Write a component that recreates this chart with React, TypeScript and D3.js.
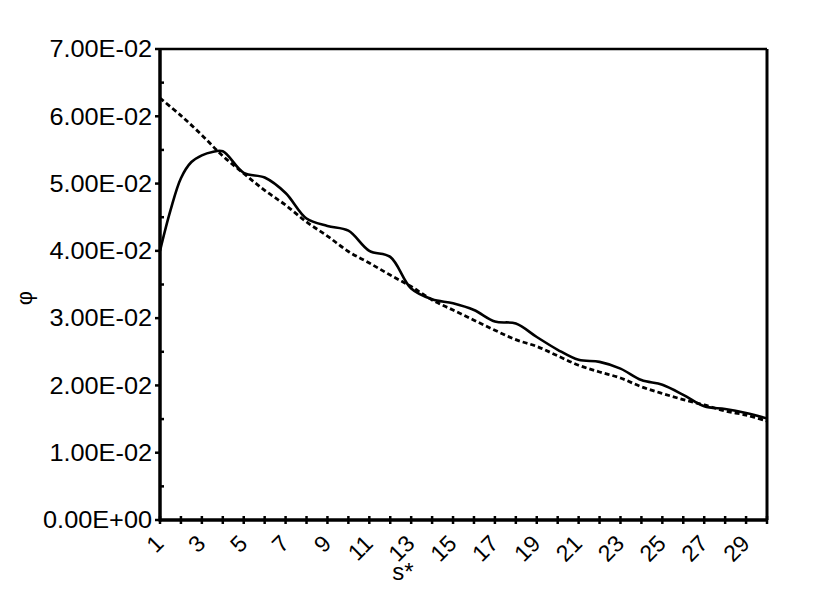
import * as d3 from 'd3';

// s* values along the x axis
const sValues = [1, 2, 3, 4, 5, 6, 7, 8, 9, 10, 11, 12, 13, 14, 15, 16, 17, 18, 19, 20, 21, 22, 23, 24, 25, 26, 27, 28, 29, 30];

// solid curve (wavy) - read a bit finer near the start
const solidS = [1, 1.5, 2, 2.5, 3, 3.5, 4, 5, 6, 7, 8, 9, 10, 11, 12, 13, 14, 15, 16, 17, 18, 19, 20, 21, 22, 23, 24, 25, 26, 27, 28, 29, 30];
const phiSolid = [0.0400, 0.0460, 0.0508, 0.0532, 0.0542, 0.0547, 0.0548, 0.0516, 0.0509, 0.0486, 0.0448, 0.0437, 0.0430,
  0.0400, 0.0391, 0.0344, 0.0328, 0.0322, 0.0312, 0.0295, 0.0292, 0.0272, 0.0253,
  0.0238, 0.0235, 0.0225, 0.0208, 0.0201, 0.0186, 0.0169, 0.0165, 0.0159, 0.0151];

// dashed curve (smooth decay)
const phiDashed = [0.0627, 0.0601, 0.0572, 0.0541, 0.0515, 0.0490, 0.0468, 0.0443, 0.0422, 0.0399,
  0.0382, 0.0364, 0.0347, 0.0327, 0.0312, 0.0297, 0.0282, 0.0268, 0.0258, 0.0244,
  0.0230, 0.0220, 0.0211, 0.0198, 0.0188, 0.0179, 0.0171, 0.0162, 0.0156, 0.0147];

const xTickLabels = [1, 3, 5, 7, 9, 11, 13, 15, 17, 19, 21, 23, 25, 27, 29];
const yMajorTicks = [0, 0.01, 0.02, 0.03, 0.04, 0.05, 0.06, 0.07];
const yMinorTicks = [0.005, 0.015, 0.025, 0.035, 0.045, 0.055, 0.065];

const fmtSci = (v: number) => {
  if (v === 0) return '0.00E+00';
  const e = Math.floor(Math.log10(v) + 1e-9);
  const m = v / Math.pow(10, e);
  const sign = e < 0 ? '-' : '+';
  return `${m.toFixed(2)}E${sign}${String(Math.abs(e)).padStart(2, '0')}`;
};

export default function App() {
  const width = 840;
  const height = 595;
  const margin = { top: 49, right: 73, bottom: 75, left: 160 };
  const innerW = width - margin.left - margin.right;
  const innerH = height - margin.top - margin.bottom;

  const x = d3.scaleLinear().domain([1, 30]).range([0, innerW]);
  const y = d3.scaleLinear().domain([0, 0.07]).range([innerH, 0]);

  const solidLine = d3.line<number>()
    .x((_, i) => x(solidS[i]))
    .y(d => y(d))
    .curve(d3.curveCatmullRom.alpha(0.5));

  const dashedLine = d3.line<number>()
    .x((_, i) => x(sValues[i]))
    .y(d => y(d))
    .curve(d3.curveCatmullRom.alpha(0.5));

  const font = '"Liberation Sans", Arial, sans-serif';

  return (
    <svg width={width} height={height} style={{ position: 'absolute', left: 0, top: 0, background: '#fff' }}
      fontFamily={font}>
      <g transform={`translate(${margin.left},${margin.top})`}>
        {/* curves */}
        <path d={dashedLine(phiDashed) || ''} fill="none" stroke="#000" strokeWidth={2.8} strokeDasharray="5,3" />
        <path d={solidLine(phiSolid) || ''} fill="none" stroke="#000" strokeWidth={2.6} />

        {/* frame */}
        <line x1={0} x2={innerW} y1={0} y2={0} stroke="#000" strokeWidth={2.5} />
        <line x1={innerW} x2={innerW} y1={0} y2={innerH} stroke="#000" strokeWidth={3} />
        <line x1={0} x2={innerW} y1={innerH} y2={innerH} stroke="#000" strokeWidth={3.5} />
        <line x1={0} x2={0} y1={-1} y2={innerH + 1.5} stroke="#000" strokeWidth={3.5} />

        {/* y ticks */}
        {yMajorTicks.map(t => (
          <g key={t}>
            <line x1={-5} x2={0} y1={y(t)} y2={y(t)} stroke="#000" strokeWidth={2.5} />
            <text x={0} y={0} transform={`translate(-8,${y(t) + 8.3}) scale(1.1,1)`} textAnchor="end" fontSize={23} fill="#000">
              {fmtSci(t)}
            </text>
          </g>
        ))}
        {yMinorTicks.map(t => (
          <line key={t} x1={0} x2={4} y1={y(t)} y2={y(t)} stroke="#000" strokeWidth={2.5} />
        ))}

        {/* x ticks */}
        {sValues.map(s => (
          <line key={s} x1={x(s)} x2={x(s)} y1={innerH - 4} y2={innerH + 4} stroke="#000" strokeWidth={2.5} />
        ))}
        {xTickLabels.map(s => (
          <text key={s} transform={`translate(${x(s) + 5},${innerH + 25}) rotate(-45)`} textAnchor="end" fontSize={23} fill="#000">
            {s}
          </text>
        ))}

        {/* axis titles */}
        <text x={403 - margin.left} y={580 - margin.top} textAnchor="middle" fontSize={24} fill="#000">
          s*
        </text>
        <text transform={`translate(${31.5 - margin.left},${298 - margin.top}) rotate(-90)`} textAnchor="middle" fontSize={22} fill="#000">
          φ
        </text>
      </g>
    </svg>
  );
}
